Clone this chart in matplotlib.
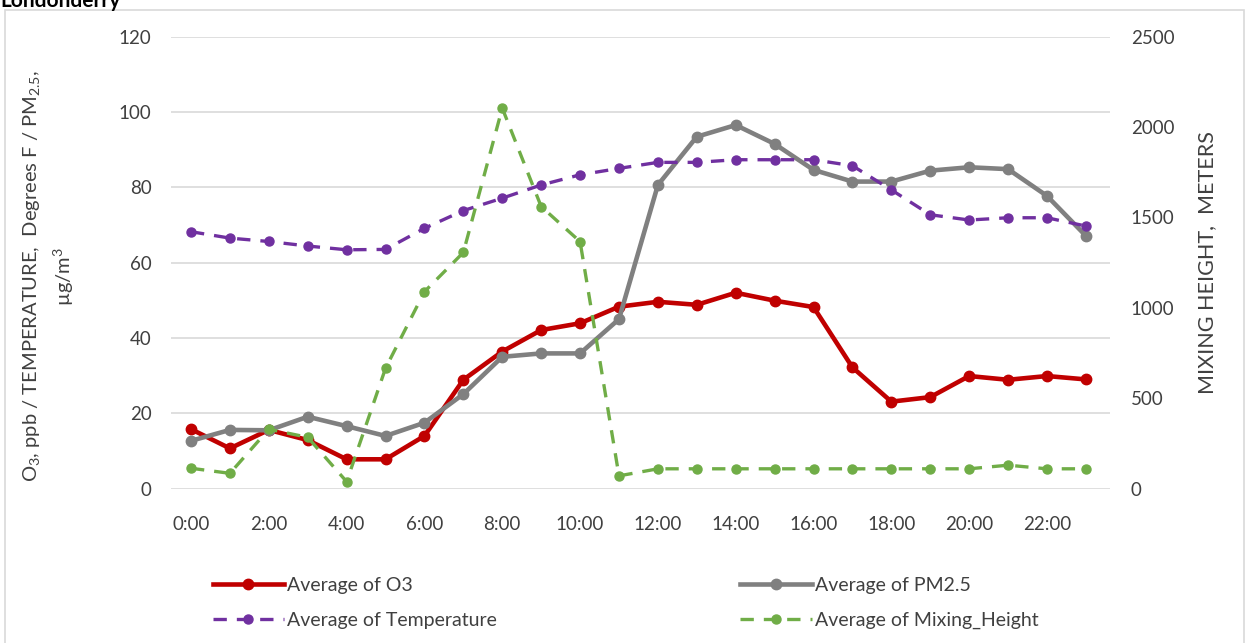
import matplotlib.pyplot as plt
from matplotlib.patches import Rectangle

plt.rcParams['font.family'] = ['Lato', 'DejaVu Sans']
plt.rcParams['mathtext.fontset'] = 'custom'
plt.rcParams['mathtext.rm'] = 'Lato'
plt.rcParams['mathtext.it'] = 'Lato'

# hourly averages
hours = [f"{h}:00" for h in range(24)]
o3 = [15.8, 10.7, 15.6, 12.9, 7.8, 7.8, 14.0, 28.9, 36.4, 42.1, 43.9, 48.3,
      49.6, 48.8, 52.0, 49.9, 48.2, 32.2, 23.1, 24.3, 29.9, 28.9, 29.9, 29.0]
pm25 = [12.7, 15.6, 15.5, 19.1, 16.6, 14.0, 17.5, 25.1, 35.0, 35.9, 35.9, 45.0,
        80.6, 93.4, 96.5, 91.5, 84.6, 81.5, 81.5, 84.4, 85.3, 84.8, 77.7, 67.1]
temperature = [68.2, 66.5, 65.6, 64.4, 63.4, 63.5, 69.1, 73.8, 77.1, 80.6, 83.3, 85.0,
               86.6, 86.6, 87.3, 87.3, 87.3, 85.7, 79.3, 72.7, 71.3, 71.9, 71.9, 69.7]
mixing_height = [113, 85, 329, 284, 39, 666, 1089, 1306, 2104, 1560, 1366, 71,
                 110, 110, 110, 110, 110, 110, 110, 110, 110, 130, 110, 110]

left_ticks = [0, 20, 40, 60, 80, 100, 120]
right_ticks = [0, 500, 1000, 1500, 2000, 2500]

W, H = 1249, 643
fig = plt.figure(figsize=(W / 100, H / 100), dpi=100)

# outer chart frame
fig.patches.append(Rectangle((5 / W, -0.02), 1239 / W, 1.02 - 10 / H,
                             transform=fig.transFigure, fill=False,
                             edgecolor='#d9d9d9', linewidth=1.2))
fig.text(0.0, 1 - 7 / H, "Londonderry", fontsize=15, fontweight='bold',
         va='baseline', ha='left')

ax = fig.add_axes([171 / W, 154.3 / H, (1110 - 171) / W, 452.2 / H])
ax2 = ax.twinx()

x = list(range(len(hours)))
ax.plot(x, o3, color='#C00000', lw=3.3, marker='o', ms=7.5, zorder=3,
        label='Average of O3')
ax.plot(x, pm25, color='#808080', lw=3.3, marker='o', ms=7.5, zorder=4,
        label='Average of PM2.5')
ax.plot(x, temperature, color='#7030A0', lw=2.4, ls=(0, (4, 3)), marker='o',
        ms=6.5, zorder=5, label='Average of Temperature')
ax2.plot(x, mixing_height, color='#70AD47', lw=2.4, ls=(0, (4, 3)), marker='o',
         ms=6.5, label='Average of Mixing_Height')

ax.set_xlim(-0.514, 23.62)
ax.set_ylim(0, 120)
ax2.set_ylim(0, 2500)
ax.set_yticks(left_ticks)
ax2.set_yticks(right_ticks)
ax.set_xticks(x[::2])
ax.set_xticklabels(hours[::2])
ax.grid(axis='y', color='#d9d9d9', lw=1.2)
ax.set_axisbelow(True)

for a in (ax, ax2):
    for s in a.spines.values():
        s.set_visible(False)
    a.tick_params(length=0, labelsize=13.5, colors='#404040')
ax.tick_params(axis='y', pad=14)
ax.tick_params(axis='x', pad=20)
ax2.tick_params(axis='y', pad=15)

ax.set_ylabel("O$\\mathregular{_3}$, ppb / TEMPERATURE,  Degrees F / PM$\\mathregular{_{2.5}}$,\n"
              "µg/m$\\mathregular{^3}$", fontsize=14.5, color='#404040',
              linespacing=1.5)
ax.yaxis.set_label_coords(-0.101, 0.47)
ax2.set_ylabel("MIXING HEIGHT,  METERS", fontsize=15.5, color='#404040', labelpad=16)

handles = ax.get_lines()[:1] + ax.get_lines()[2:3] + ax.get_lines()[1:2] + ax2.get_lines()
labels = [h.get_label() for h in handles]
fig.legend(handles, labels, ncol=2, loc='upper left',
           bbox_to_anchor=(195 / W, 1 - 559 / H), frameon=False,
           fontsize=14, handlelength=3.7, handletextpad=0.15,
           columnspacing=12.5, labelspacing=0.95, labelcolor='#404040')

fig.savefig("out.png", dpi=100)
